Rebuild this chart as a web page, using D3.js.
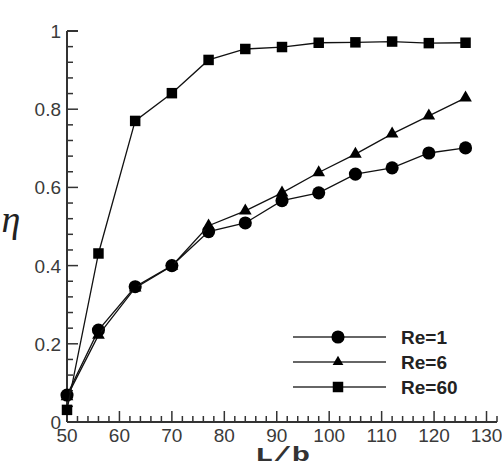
<!DOCTYPE html>
<html>
<head>
<meta charset="utf-8">
<script src="https://cdn.jsdelivr.net/npm/d3@7"></script>
<style>
  body { margin: 0; background: #fff; }
  .tick-label { font-family: "Liberation Sans", Arial, sans-serif; font-size: 19px; fill: #3a3a3a; }
  .legend-text { font-family: "Liberation Sans", Arial, sans-serif; font-size: 19px; font-weight: bold; fill: #222; }
</style>
</head>
<body>
<div id="chart"></div>
<script>
const lb = [50, 56, 63, 70, 77, 84, 91, 98, 105, 112, 119, 126];
const re1 = [0.069, 0.235, 0.346, 0.400, 0.487, 0.509, 0.566, 0.586, 0.634, 0.650, 0.688, 0.701];
const re6 = [0.065, 0.222, 0.343, 0.399, 0.502, 0.540, 0.586, 0.638, 0.685, 0.737, 0.783, 0.829];
const re60 = [0.031, 0.431, 0.770, 0.841, 0.926, 0.954, 0.959, 0.970, 0.971, 0.973, 0.969, 0.970];
const seriesNames = ["Re=1", "Re=6", "Re=60"];
const xMajor = [50, 60, 70, 80, 90, 100, 110, 120, 130];
const yMajor = [0, 0.2, 0.4, 0.6, 0.8, 1];

const W = 502, H = 467;
const svg = d3.select("#chart").append("svg")
  .attr("width", W).attr("height", H);

const x = d3.scaleLinear().domain([50, 132]).range([67, 497]);
const y = d3.scaleLinear().domain([0, 1]).range([422, 31]);

const series = [
  { name: seriesNames[0], values: re1, symbol: d3.symbolCircle, size: 135 },
  { name: seriesNames[1], values: re6, symbol: d3.symbolTriangle, size: 70 },
  { name: seriesNames[2], values: re60, symbol: d3.symbolSquare, size: 110 }
];

// axes
const axisColor = "#333";
svg.append("line")
  .attr("x1", x(50)).attr("x2", x(132))
  .attr("y1", y(0)).attr("y2", y(0))
  .attr("stroke", axisColor).attr("stroke-width", 2);
svg.append("line")
  .attr("x1", x(50)).attr("x2", x(50))
  .attr("y1", y(0)).attr("y2", y(1))
  .attr("stroke", axisColor).attr("stroke-width", 2);

const xMinor = d3.range(50, 133, 2);
svg.append("g").selectAll("line")
  .data(xMinor)
  .enter().append("line")
  .attr("x1", d => x(d)).attr("x2", d => x(d))
  .attr("y1", y(0))
  .attr("y2", d => y(0) - (d % 10 === 0 ? 11 : 6))
  .attr("stroke", axisColor).attr("stroke-width", 1.5);

const yMinor = d3.range(0, 26).map(i => i * 0.04);
svg.append("g").selectAll("line")
  .data(yMinor)
  .enter().append("line")
  .attr("x1", x(50))
  .attr("x2", (d, i) => x(50) + (i % 5 === 0 ? 11 : 6))
  .attr("y1", d => y(d)).attr("y2", d => y(d))
  .attr("stroke", axisColor).attr("stroke-width", 1.5);

// top bracket at y=1
svg.append("line")
  .attr("x1", x(50)).attr("x2", x(50) + 11)
  .attr("y1", y(1)).attr("y2", y(1))
  .attr("stroke", axisColor).attr("stroke-width", 2);

svg.append("g").selectAll("text")
  .data(xMajor)
  .enter().append("text")
  .attr("class", "tick-label")
  .attr("x", d => x(d))
  .attr("y", y(0) + 20)
  .attr("text-anchor", "middle")
  .text(d => d);

svg.append("g").selectAll("text")
  .data(yMajor)
  .enter().append("text")
  .attr("class", "tick-label")
  .attr("x", 61)
  .attr("y", d => y(d) + 7)
  .attr("text-anchor", "end")
  .text(d => d);

// axis titles
svg.append("text")
  .attr("x", 255).attr("y", 461)
  .attr("textLength", 55)
  .attr("lengthAdjust", "spacingAndGlyphs")
  .style("font-family", "'Liberation Mono', 'DejaVu Sans Mono', monospace")
  .style("font-weight", "bold")
  .style("font-size", "21px")
  .style("fill", "#333")
  .text("L/b");

svg.append("text")
  .attr("x", 11).attr("y", 232)
  .attr("text-anchor", "middle")
  .style("font-family", "'Liberation Serif', 'DejaVu Serif', serif")
  .style("font-style", "italic")
  .style("font-size", "38px")
  .style("fill", "#222")
  .text("η");

// series
const line = d3.line()
  .x((d, i) => x(lb[i]))
  .y(d => y(d));

series.forEach(s => {
  svg.append("path")
    .datum(s.values)
    .attr("fill", "none")
    .attr("stroke", "#111")
    .attr("stroke-width", 1.3)
    .attr("d", line);

  svg.append("g").selectAll("path")
    .data(s.values)
    .enter().append("path")
    .attr("transform", (d, i) => `translate(${x(lb[i])},${y(d)})`)
    .attr("d", d3.symbol().type(s.symbol).size(s.size))
    .attr("fill", "#000");
});

// legend
const legend = svg.append("g");
const legendY = [337, 362, 387];
series.forEach((s, i) => {
  legend.append("line")
    .attr("x1", 293).attr("x2", 386)
    .attr("y1", legendY[i]).attr("y2", legendY[i])
    .attr("stroke", "#333").attr("stroke-width", 1.3);
  legend.append("path")
    .attr("transform", `translate(338,${legendY[i]})`)
    .attr("d", d3.symbol().type(s.symbol).size(i === 1 ? 50 : s.size))
    .attr("fill", "#000");
  legend.append("text")
    .attr("class", "legend-text")
    .attr("x", 401)
    .attr("y", legendY[i] + 7)
    .text(s.name);
});
</script>
</body>
</html>
